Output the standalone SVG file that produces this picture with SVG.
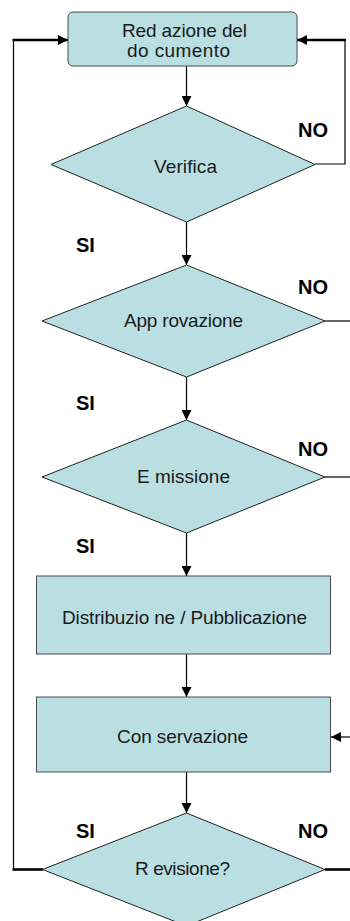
<svg xmlns="http://www.w3.org/2000/svg" width="350" height="921" viewBox="0 0 350 921">
<style>
.box{fill:#b9dfe3;stroke:#4a4a4a;stroke-width:1}
.dia{fill:#b9dfe3;stroke:#222;stroke-width:1}
.t{font-family:"Liberation Sans",Arial,sans-serif;font-size:19px;fill:#1a1a1a}
.b{font-family:"Liberation Sans",Arial,sans-serif;font-size:20px;font-weight:bold;fill:#000}
.thin{fill:none;stroke:#000;stroke-width:1.2}
.thick{fill:none;stroke:#000;stroke-width:2.6}
</style>
<defs>
<marker id="ah" markerUnits="userSpaceOnUse" markerWidth="10" markerHeight="10" viewBox="0 0 10 10" refX="10" refY="5" orient="auto">
<path d="M0,0 L10,5 L0,10 Z" fill="#000"/>
</marker>
</defs>
<g id="connectors">
<line class="thin" x1="186.5" y1="66" x2="186.5" y2="106" marker-end="url(#ah)"/>
<line class="thin" x1="186.5" y1="222" x2="186.5" y2="265" marker-end="url(#ah)"/>
<line class="thin" x1="186.5" y1="377" x2="186.5" y2="420" marker-end="url(#ah)"/>
<line class="thin" x1="186.5" y1="533" x2="186.5" y2="576" marker-end="url(#ah)"/>
<line class="thin" x1="186.5" y1="654" x2="186.5" y2="697" marker-end="url(#ah)"/>
<line class="thin" x1="186.5" y1="772" x2="186.5" y2="813" marker-end="url(#ah)"/>
<polyline class="thin" points="315,164 345,164 345,40"/>
<line class="thick" x1="346" y1="40" x2="297" y2="40" marker-end="url(#ah)"/>
<line class="thin" x1="325" y1="321" x2="350" y2="321"/>
<line class="thin" x1="325" y1="477" x2="350" y2="477"/>
<line class="thin" x1="350" y1="737" x2="331" y2="737" marker-end="url(#ah)"/>
<line class="thick" x1="43" y1="869.5" x2="12.5" y2="869.5"/>
<line class="thin" x1="13.5" y1="869.5" x2="13.5" y2="40"/>
<line class="thick" x1="12.5" y1="40" x2="68" y2="40" marker-end="url(#ah)"/>
<line class="thick" x1="325" y1="869.5" x2="350" y2="869.5"/>
</g>
<g id="redazione">
<rect class="box" x="68" y="12" width="229" height="54" rx="5"/>
<text class="t" x="122" y="37" textLength="125" lengthAdjust="spacing">Red azione del</text>
<text class="t" x="127" y="57" textLength="103" lengthAdjust="spacing">do cumento</text>
</g>
<g id="verifica">
<polygon class="dia" points="186.5,106 315,164.5 186.5,222 51,164.5"/>
<text class="t" x="154" y="173" textLength="63" lengthAdjust="spacing">Verifica</text>
</g>
<g id="approvazione">
<polygon class="dia" points="186.5,265 325,321 186.5,377 42,321"/>
<text class="t" x="124" y="327" textLength="119" lengthAdjust="spacing">App rovazione</text>
</g>
<g id="emissione">
<polygon class="dia" points="186.5,420 325,477 186.5,533 42,477"/>
<text class="t" x="137" y="483" textLength="93" lengthAdjust="spacing">E missione</text>
</g>
<g id="distribuzione">
<rect class="box" x="36.5" y="576" width="294" height="78"/>
<text class="t" x="62" y="624" textLength="245" lengthAdjust="spacing">Distribuzio ne / Pubblicazione</text>
</g>
<g id="conservazione">
<rect class="box" x="36.5" y="697" width="294" height="75"/>
<text class="t" x="117" y="743" textLength="131" lengthAdjust="spacing">Con servazione</text>
</g>
<g id="revisione">
<polygon class="dia" points="186.5,813 325,869.5 186.5,926 42.5,869.5"/>
<text class="t" x="135" y="875" textLength="95" lengthAdjust="spacing">R evisione?</text>
</g>
<g id="labels">
<text class="b" x="298" y="137" textLength="30" lengthAdjust="spacing">NO</text>
<text class="b" x="76" y="252">SI</text>
<text class="b" x="298" y="294" textLength="30" lengthAdjust="spacing">NO</text>
<text class="b" x="76" y="410">SI</text>
<text class="b" x="298" y="456" textLength="30" lengthAdjust="spacing">NO</text>
<text class="b" x="76" y="553">SI</text>
<text class="b" x="76" y="838">SI</text>
<text class="b" x="298" y="838" textLength="30" lengthAdjust="spacing">NO</text>
</g>
</svg>
